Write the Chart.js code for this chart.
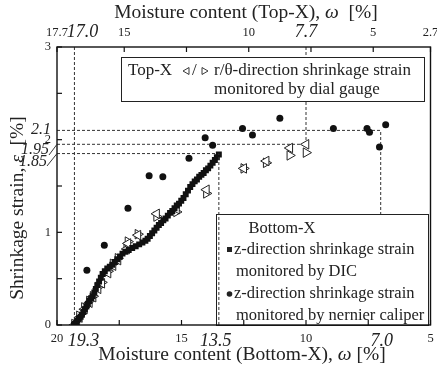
<!DOCTYPE html>
<html lang="en">
<head>
<meta charset="UTF-8">
<title>Shrinkage strain vs moisture content</title>
<script src="https://cdn.jsdelivr.net/npm/chart.js"></script>
<style>
  html, body { margin: 0; padding: 0; background: #fff; }
</style>
</head>
<body>
<canvas id="chart" width="437" height="367"></canvas>
<script>
// z-direction, DIC (bottom axis moisture)
const dicMoisture = [19.32, 19.28, 19.22, 19.18, 19.12, 19.05, 19.0, 18.94, 18.88, 18.82, 18.76, 18.7, 18.63, 18.57,
  18.5, 18.44, 18.38, 18.31, 18.24, 18.17, 18.08, 17.98, 17.88, 17.78, 17.68, 17.58, 17.47, 17.37, 17.25, 17.12,
  16.98, 16.84, 16.7, 16.57, 16.45, 16.36, 16.27, 16.18, 16.09, 16.0, 15.91, 15.82, 15.73, 15.64, 15.55, 15.46,
  15.37, 15.28, 15.19, 15.1, 15.01, 14.92, 14.83, 14.74, 14.65, 14.56, 14.47, 14.38, 14.29, 14.2, 14.11, 14.02,
  13.93, 13.84, 13.75, 13.66, 13.58, 13.5];
const dicStrain = [0.0, 0.01, 0.03, 0.05, 0.07, 0.09, 0.11, 0.14, 0.17, 0.2, 0.23, 0.26, 0.29, 0.31,
  0.35, 0.39, 0.43, 0.47, 0.51, 0.55, 0.58, 0.61, 0.63, 0.65, 0.68, 0.71, 0.74, 0.77, 0.79, 0.81,
  0.83, 0.85, 0.87, 0.89, 0.91, 0.93, 0.96, 0.99, 1.02, 1.05, 1.08, 1.1, 1.13, 1.15, 1.18, 1.21,
  1.23, 1.26, 1.29, 1.31, 1.34, 1.37, 1.41, 1.45, 1.49, 1.52, 1.55, 1.57, 1.6, 1.62, 1.64, 1.67,
  1.69, 1.72, 1.75, 1.78, 1.81, 1.84];

// z-direction, nernier caliper (bottom axis moisture)
const caliperMoisture = [18.8, 18.1, 17.15, 16.3, 15.75, 14.7, 14.05, 13.75, 12.55, 12.15, 11.05, 8.9, 7.55, 7.45, 7.05, 6.8];
const caliperStrain = [0.59, 0.86, 1.26, 1.61, 1.6, 1.8, 2.02, 1.94, 2.12, 2.05, 2.23, 2.12, 2.12, 2.08, 1.92, 2.16];

// r/theta-direction, dial gauge (top axis moisture)
const gaugeMoisture = [17.0, 16.8, 16.6, 16.4, 16.25, 16.05, 15.9, 15.65, 15.45, 15.25, 14.9, 14.85, 14.45, 13.7, 12.9, 11.7, 10.2, 9.3, 8.35, 7.7];
const gaugeStrainR = [0.0, 0.08, 0.17, 0.24, 0.3, 0.39, 0.45, 0.56, 0.64, 0.7, 0.82, 0.88, 0.97, 1.2, 1.25, 1.46, 1.69, 1.77, 1.91, 1.95];
const gaugeStrainT = [0.01, 0.1, 0.19, 0.26, 0.31, 0.41, 0.46, 0.58, 0.66, 0.72, 0.84, 0.9, 0.98, 1.17, 1.22, 1.42, 1.69, 1.75, 1.83, 1.86];

const bottomTicks = [20, 17.5, 15, 12.5, 10, 7.5, 5];
const bottomLabels = [20, 15, 10, 5];
const topTicks = [17.7, 15, 12.5, 10, 7.5, 5, 2.7];
const topLabels = [17.7, 15, 10, 5, 2.7];
const strainTicks = [0, 0.5, 1, 1.5, 2, 2.5, 3];
const strainLabels = [0, 1, 2, 3];

// marked values
const markBottom = [19.3, 13.5, 7.0];
const markTop = [17.0, 7.7];
const markStrain = [2.1, 1.95, 1.85];

const FONT = '"Liberation Serif", "DejaVu Serif", serif';

function pts(xs, ys) {
  return xs.map((x, i) => ({ x: x, y: ys[i] }));
}

function line(ctx, x1, y1, x2, y2) {
  ctx.beginPath();
  ctx.moveTo(x1, y1);
  ctx.lineTo(x2, y2);
  ctx.stroke();
}

function tri(ctx, cx, cy, r, dir) {
  // dir 1 = pointing right, -1 = pointing left
  ctx.beginPath();
  ctx.moveTo(cx + dir * r, cy);
  ctx.lineTo(cx - dir * r * 0.5, cy - r * 0.87);
  ctx.lineTo(cx - dir * r * 0.5, cy + r * 0.87);
  ctx.closePath();
  ctx.stroke();
}

// text with some italic parts, centred on (cx, cy)
function mixed(ctx, parts, cx, cy, size, angle) {
  let total = 0;
  parts.forEach(p => {
    ctx.font = (p[1] ? 'italic ' : '') + size + 'px ' + FONT;
    total += ctx.measureText(p[0]).width;
  });
  ctx.save();
  ctx.translate(cx, cy);
  ctx.rotate(angle || 0);
  ctx.textAlign = 'left';
  ctx.textBaseline = 'middle';
  let px = -total / 2;
  parts.forEach(p => {
    ctx.font = (p[1] ? 'italic ' : '') + size + 'px ' + FONT;
    ctx.fillText(p[0], px, 0);
    px += ctx.measureText(p[0]).width;
  });
  ctx.restore();
}

const decor = {
  id: 'decor',
  beforeDatasetsDraw(chart) {
    const { ctx, chartArea: a, scales } = chart;
    const x = scales.x, x2 = scales.x2, y = scales.y;
    ctx.save();
    ctx.strokeStyle = '#333';
    ctx.lineWidth = 1;
    ctx.setLineDash([3, 2]);
    line(ctx, x.getPixelForValue(markBottom[0]), a.bottom, x.getPixelForValue(markBottom[0]), a.top);
    line(ctx, x.getPixelForValue(markBottom[2]), a.bottom, x.getPixelForValue(markBottom[2]), y.getPixelForValue(markStrain[0]));
    line(ctx, x2.getPixelForValue(markTop[1]), a.top, x2.getPixelForValue(markTop[1]), y.getPixelForValue(markStrain[1]));
    line(ctx, a.left, y.getPixelForValue(markStrain[0]), x.getPixelForValue(markBottom[2]), y.getPixelForValue(markStrain[0]));
    line(ctx, a.left, y.getPixelForValue(markStrain[1]), x2.getPixelForValue(markTop[1]), y.getPixelForValue(markStrain[1]));
    line(ctx, a.left, y.getPixelForValue(markStrain[2]), x.getPixelForValue(markBottom[1]), y.getPixelForValue(markStrain[2]));
    ctx.restore();
  },
  afterDatasetsDraw(chart) {
    const { ctx, chartArea: a, scales } = chart;
    const x = scales.x, x2 = scales.x2, y = scales.y;
    ctx.save();

    // legend boxes
    ctx.fillStyle = '#fff';
    ctx.strokeStyle = '#222';
    ctx.lineWidth = 1;
    ctx.fillRect(121, 57, 303, 44);
    ctx.strokeRect(121.5, 57.5, 303, 44);
    ctx.fillRect(216, 214, 212, a.bottom - 214);
    ctx.strokeRect(216.5, 214.5, 212, a.bottom - 214);

    // 13.5 line shows through the lower box
    ctx.strokeStyle = '#333';
    ctx.setLineDash([3, 2]);
    line(ctx, x.getPixelForValue(markBottom[1]), a.bottom, x.getPixelForValue(markBottom[1]), y.getPixelForValue(markStrain[2]));
    ctx.setLineDash([]);

    // frame
    ctx.strokeStyle = '#111';
    ctx.lineWidth = 1.4;
    ctx.strokeRect(a.left, a.top, a.right - a.left, a.bottom - a.top);

    // inward ticks
    ctx.lineWidth = 1.2;
    bottomTicks.forEach(v => line(ctx, x.getPixelForValue(v), a.bottom, x.getPixelForValue(v), a.bottom - 5));
    topTicks.forEach(v => line(ctx, x2.getPixelForValue(v), a.top, x2.getPixelForValue(v), a.top + 5));
    strainTicks.forEach(v => line(ctx, a.left, y.getPixelForValue(v), a.left + 5, y.getPixelForValue(v)));

    // axis titles
    ctx.fillStyle = '#222';
    mixed(ctx, [['Moisture content (Top-X), ', false], ['\u03c9', true], ['  [%]', false]], 246, 13, 19.5);
    mixed(ctx, [['Moisture content (Bottom-X), ', false], ['\u03c9', true], [' [%]', false]], 242, 355, 19.5);
    mixed(ctx, [['Shrinkage strain, ', false], ['\u03b5', true], ['  [%]', false]], 18, 208, 19.5, -Math.PI / 2);

    // italic marked values
    ctx.font = 'italic 18px ' + FONT;
    ctx.textBaseline = 'middle';
    ctx.textAlign = 'center';
    ctx.fillText('19.3', x.getPixelForValue(markBottom[0]) + 9, 341);
    ctx.fillText('13.5', x.getPixelForValue(markBottom[1]) - 3, 341);
    ctx.fillText('7.0', x.getPixelForValue(markBottom[2]) + 1, 341);
    ctx.fillText('17.0', x2.getPixelForValue(markTop[0]) + 8, 32);
    ctx.fillText('7.7', x2.getPixelForValue(markTop[1]), 32);
    ctx.font = 'italic 16px ' + FONT;
    ctx.textAlign = 'right';
    ctx.fillText('2.1', 51, y.getPixelForValue(markStrain[0]) - 1);
    ctx.fillText('1.95', 49, 150);
    ctx.fillText('1.85', 47, 162);
    ctx.strokeStyle = '#222';
    ctx.lineWidth = 0.9;
    line(ctx, 49, 155, a.left, y.getPixelForValue(markStrain[1]));
    line(ctx, 47, 166, a.left, y.getPixelForValue(markStrain[2]));

    // legend text
    ctx.font = '17px ' + FONT;
    ctx.textAlign = 'left';
    ctx.fillText('Top-X', 128, 71);
    ctx.lineWidth = 0.9;
    tri(ctx, 187, 71, 4, -1);
    ctx.fillText('/', 192, 71);
    tri(ctx, 204, 71, 4, 1);
    ctx.fillText('r/\u03b8-direction shrinkage strain', 214, 71);
    ctx.fillText('monitored by dial gauge', 214, 90);

    ctx.font = '16.5px ' + FONT;
    ctx.textAlign = 'center';
    ctx.fillText('Bottom-X', 282, 229);
    ctx.textAlign = 'left';
    ctx.fillRect(227, 247, 5, 5);
    ctx.fillText('z-direction shrinkage strain', 234, 250);
    ctx.fillText('monitored by DIC', 236, 272);
    ctx.beginPath();
    ctx.arc(229.5, 294, 2.8, 0, Math.PI * 2);
    ctx.fill();
    ctx.fillText('z-direction shrinkage strain', 234, 294);
    ctx.fillText('monitored by nernier caliper', 236, 316);
    ctx.restore();
  }
};

const tickFont = { family: FONT, size: 12.5 };

new Chart(document.getElementById('chart'), {
  type: 'scatter',
  data: {
    datasets: [
      {
        label: 'DIC', xAxisID: 'x', data: pts(dicMoisture, dicStrain),
        pointStyle: 'rect', pointRadius: 4.2, backgroundColor: '#111', borderColor: '#111', borderWidth: 0
      },
      {
        label: 'nernier caliper', xAxisID: 'x', data: pts(caliperMoisture, caliperStrain),
        pointStyle: 'circle', pointRadius: 3.5, backgroundColor: '#111', borderColor: '#111', borderWidth: 0
      },
      {
        label: 'dial gauge r', xAxisID: 'x2', data: pts(gaugeMoisture, gaugeStrainR),
        pointStyle: 'triangle', rotation: -90, pointRadius: 5.5, backgroundColor: '#fff', borderColor: '#222', borderWidth: 1
      },
      {
        label: 'dial gauge theta', xAxisID: 'x2', data: pts(gaugeMoisture, gaugeStrainT),
        pointStyle: 'triangle', rotation: 90, pointRadius: 5.5, backgroundColor: '#fff', borderColor: '#222', borderWidth: 1
      }
    ]
  },
  options: {
    responsive: false,
    animation: false,
    devicePixelRatio: 1,
    layout: { padding: { left: 0, right: 5, top: 0, bottom: 0 } },
    plugins: { legend: { display: false }, tooltip: { enabled: false } },
    scales: {
      x: {
        type: 'linear', position: 'bottom', min: 5, max: 20, reverse: true,
        afterBuildTicks: s => { s.ticks = bottomTicks.map(v => ({ value: v })); },
        afterFit: s => { s.height = 42; s.paddingLeft = 0; s.paddingRight = 0; },
        grid: { display: false, drawTicks: false },
        border: { display: false },
        ticks: {
          padding: 6, color: '#222', font: tickFont, maxRotation: 0, autoSkip: false,
          callback: v => bottomLabels.includes(v) ? String(v) : ''
        }
      },
      x2: {
        type: 'linear', position: 'top', min: 2.7, max: 17.7, reverse: true,
        afterBuildTicks: s => { s.ticks = topTicks.map(v => ({ value: v })); },
        afterFit: s => { s.height = 47; s.paddingLeft = 0; s.paddingRight = 0; },
        grid: { display: false, drawTicks: false },
        border: { display: false },
        ticks: {
          padding: 7, color: '#222', font: tickFont, maxRotation: 0, autoSkip: false,
          callback: v => topLabels.includes(v) ? String(v) : ''
        }
      },
      y: {
        type: 'linear', position: 'left', min: 0, max: 3,
        afterBuildTicks: s => { s.ticks = strainTicks.map(v => ({ value: v })); },
        afterFit: s => { s.width = 57; s.paddingTop = 0; s.paddingBottom = 0; },
        grid: { display: false, drawTicks: false },
        border: { display: false },
        ticks: {
          padding: 6, color: '#222', font: tickFont,
          callback: v => strainLabels.includes(v) ? String(v) : ''
        }
      }
    }
  },
  plugins: [decor]
});
</script>
</body>
</html>
